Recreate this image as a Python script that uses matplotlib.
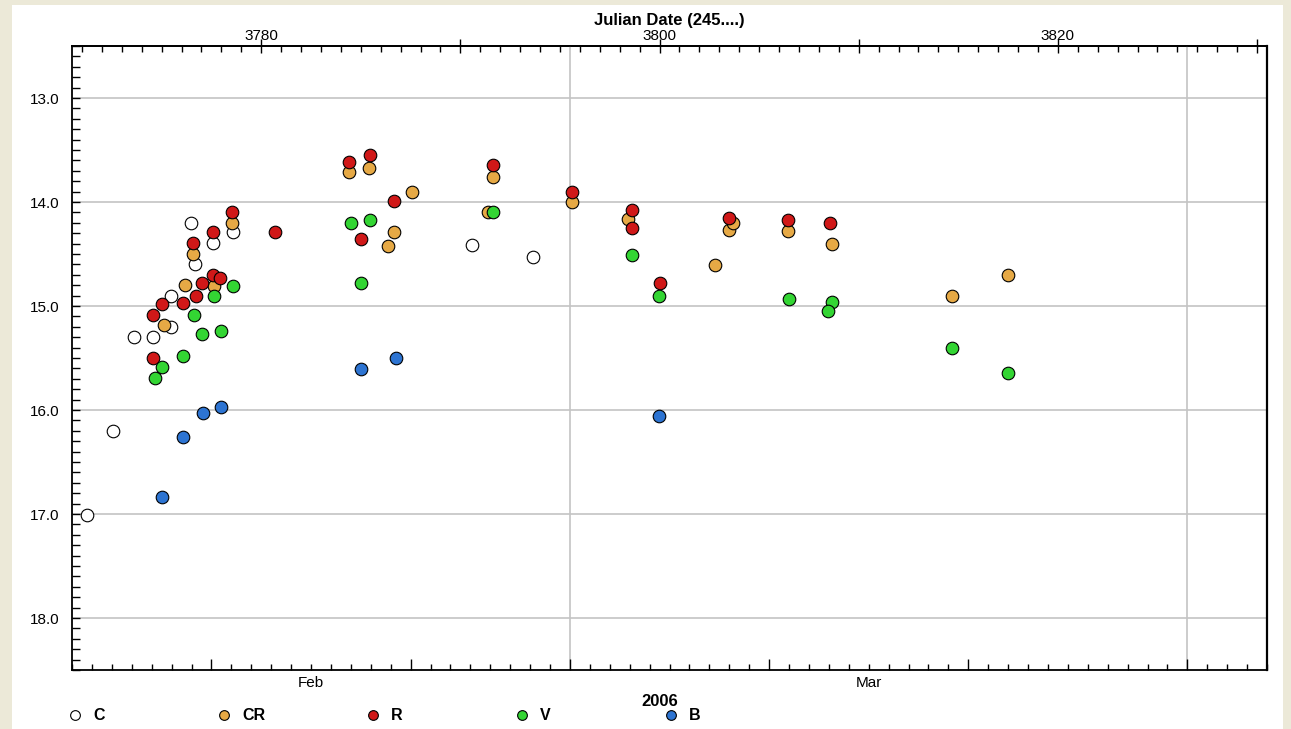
import matplotlib
matplotlib.use("Agg")
import matplotlib.pyplot as plt
from matplotlib.ticker import MultipleLocator, FixedLocator, FuncFormatter
from matplotlib.patches import Rectangle
from matplotlib.lines import Line2D

# JD - 2450000, magnitude
c_jd = [3771.25, 3772.56, 3773.61, 3774.57, 3775.47, 3775.47, 3776.47, 3776.67,
        3777.58, 3778.58, 3790.58, 3793.64]
c_mag = [17.01, 16.20, 15.30, 15.30, 15.20, 14.90, 14.20, 14.60,
         14.39, 14.29, 14.41, 14.53]

cr_jd = [3775.12, 3776.17, 3776.57, 3777.63, 3778.53, 3784.41, 3785.41, 3787.57,
         3786.36, 3786.66, 3791.38, 3791.63, 3795.60, 3798.41, 3803.48, 3803.68,
         3802.78, 3806.44, 3808.65, 3814.68, 3817.49]
cr_mag = [15.18, 14.80, 14.50, 14.81, 14.20, 13.71, 13.67, 13.90,
          14.42, 14.29, 14.10, 13.76, 14.00, 14.16, 14.27, 14.20,
          14.61, 14.28, 14.40, 14.90, 14.70]

r_jd = [3774.57, 3774.57, 3775.02, 3776.07, 3776.72, 3777.03, 3776.57, 3777.58,
        3777.58, 3777.93, 3778.53, 3780.70, 3784.41, 3785.46, 3785.01, 3786.66,
        3791.63, 3795.60, 3798.61, 3798.61, 3800.02, 3803.48, 3806.44, 3808.55]
r_mag = [15.50, 15.09, 14.98, 14.97, 14.90, 14.78, 14.39, 14.29,
         14.70, 14.73, 14.10, 14.29, 13.62, 13.55, 14.36, 13.99,
         13.64, 13.90, 14.08, 14.25, 14.78, 14.15, 14.17, 14.20]

v_jd = [3774.67, 3775.02, 3776.07, 3776.62, 3777.03, 3777.98, 3777.63, 3778.58,
        3784.51, 3785.46, 3785.01, 3791.63, 3798.61, 3799.97, 3806.49, 3808.65,
        3808.45, 3814.68, 3817.49]
v_mag = [15.69, 15.59, 15.48, 15.09, 15.27, 15.24, 14.90, 14.81,
         14.20, 14.17, 14.78, 14.10, 14.51, 14.90, 14.93, 14.96,
         15.05, 15.40, 15.64]

b_jd = [3775.02, 3776.07, 3777.08, 3777.98, 3785.01, 3786.76, 3799.97]
b_mag = [16.84, 16.26, 16.03, 15.97, 15.61, 15.50, 16.06]

series = [("C", c_jd, c_mag, "white"),
          ("CR", cr_jd, cr_mag, "#E6A945"),
          ("R", r_jd, r_mag, "#D01818"),
          ("V", v_jd, v_mag, "#33D533"),
          ("B", b_jd, b_mag, "#2D74D2")]

# calendar (JD - 2450000 of midnight)
month_starts = [3795.5, 3826.5]           # Mar 1, Apr 1
date_ticks = [3777.5, 3787.5, 3795.5, 3805.5, 3815.5, 3826.5]
month_labels = ["Feb", "Mar"]
month_label_pos = [3782.5, 3810.5]
jd_labels = [3780, 3800, 3820]

plt.rcParams['font.family'] = ['Liberation Sans', 'DejaVu Sans']

fig = plt.figure(figsize=(12.91, 7.29), dpi=100, facecolor="#ECE9D8")
fig.patches.append(Rectangle((12 / 1291, 0), (1283 - 12) / 1291, 1 - 5 / 729,
                             transform=fig.transFigure, facecolor="white",
                             edgecolor="none", zorder=-10))

ax = fig.add_axes([72 / 1291, 1 - 670 / 729, (1267 - 72) / 1291, (670 - 46) / 729])
ax.set_zorder(2)
ax.set_facecolor("white")

for name, xs, ys, col in series:
    ax.scatter(xs, ys, s=82, c=col, edgecolors="black", linewidths=0.8,
               zorder=3, label=name)

ax.set_xlim(3770.5, 3830.5)
ax.set_ylim(18.5, 12.5)

# grid
for m in [13, 14, 15, 16, 17, 18]:
    ax.axhline(m, color="#C4C4C4", lw=1.2, zorder=1)
for ms in month_starts:
    ax.axvline(ms, color="#C4C4C4", lw=1.2, zorder=1)

# y axis
ax.yaxis.set_major_locator(MultipleLocator(1))
ax.yaxis.set_minor_locator(MultipleLocator(0.1))
ax.yaxis.set_major_formatter(FuncFormatter(lambda v, p: "%.1f" % v))
ax.tick_params(axis="y", which="both", direction="in", length=6, width=1,
               labelsize=11, pad=9, right=False)

# bottom: calendar
ax.xaxis.set_major_locator(FixedLocator(date_ticks))
ax.xaxis.set_minor_locator(MultipleLocator(1, offset=0.5))
ax.set_xticklabels([])
ax.tick_params(axis="x", which="major", direction="in", length=8, width=1)
ax.tick_params(axis="x", which="minor", direction="in", length=4, width=1)
for lab, pos in zip(month_labels, month_label_pos):
    ax.text(pos, -0.01, lab, transform=ax.get_xaxis_transform(),
            ha="center", va="top", fontsize=11)

# top: Julian date
top = ax.secondary_xaxis("top")
top.xaxis.set_major_locator(MultipleLocator(10))
top.xaxis.set_minor_locator(MultipleLocator(1))
top.xaxis.set_major_formatter(
    FuncFormatter(lambda v, p: "%d" % v if round(v) in jd_labels else ""))
top.tick_params(axis="x", which="major", direction="inout", length=10, width=1,
                labelsize=11, pad=-3)
top.tick_params(axis="x", which="minor", direction="in", length=4, width=1)
top.set_xlabel("Julian Date (245....)", fontsize=12, fontweight="bold",
               labelpad=3)

for sp in ax.spines.values():
    sp.set_linewidth(1.3)
ax.spines["right"].set_linewidth(1.6)
top.spines["top"].set_linewidth(1.3)

fig.text(0.511, 1 - 701 / 729, "2006", ha="center", va="center",
         fontsize=12, fontweight="bold")

# legend: one entry every 149 px
for i, (name, _, _, col) in enumerate(series):
    h = Line2D([], [], ls="", marker="o", markersize=7, markerfacecolor=col,
               markeredgecolor="black", markeredgewidth=0.8)
    fig.legend([h], [name], loc="center left",
               bbox_to_anchor=((53 + 149 * i) / 1291, 1 - 716 / 729),
               frameon=False, handlelength=1.0, handletextpad=0.6,
               prop={"weight": "bold", "size": 11.5})

fig.savefig("out.png", dpi=100, facecolor=fig.get_facecolor())
